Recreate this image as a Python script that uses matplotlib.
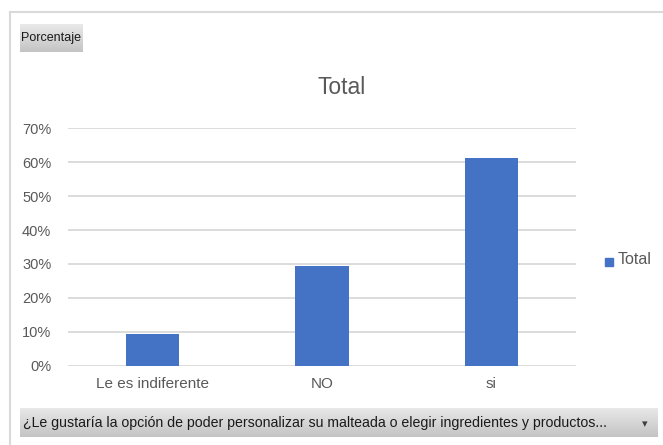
import matplotlib
matplotlib.use("Agg")
import matplotlib.pyplot as plt
from matplotlib.patches import Rectangle
import numpy as np

categories = ["Le es indiferente", "NO", "si"]
values = [0.093, 0.295, 0.612]
yticks = [0, 0.1, 0.2, 0.3, 0.4, 0.5, 0.6, 0.7]
ytick_labels = ["0%", "10%", "20%", "30%", "40%", "50%", "60%", "70%"]
series_name = "Total"
title = "Total"
field_button = "Porcentaje"
axis_field = "¿Le gustaría la opción de poder personalizar su malteada o elegir ingredientes y productos..."

FONT = ["Liberation Sans", "DejaVu Sans"]
plt.rcParams["font.family"] = FONT

W, H = 663, 445
fig = plt.figure(figsize=(W / 100, H / 100), dpi=100)
fig.patch.set_facecolor("white")

def fx(px):
    return px / W

def fy(py):
    return 1 - py / H

# chart area border
fig.add_artist(plt.Line2D([fx(10), fx(663)], [fy(12), fy(12)], color="#d9d9d9", lw=1.5))
fig.add_artist(plt.Line2D([fx(10), fx(10)], [fy(12), fy(445)], color="#d9d9d9", lw=1.5))

# plot area
ax = fig.add_axes([fx(68), fy(365.7), fx(576) - fx(68), fy(128.3) - fy(365.7)])
x = np.arange(len(categories))
ax.bar(x, values, width=0.313, color="#4472C4", zorder=3, label=series_name)
ax.set_xlim(-0.5, len(categories) - 0.5)
ax.set_ylim(0, 0.7)
ax.set_yticks(yticks)
ax.set_yticklabels(ytick_labels)
ax.set_xticks(x)
ax.set_xticklabels(categories)
ax.yaxis.grid(True, color="#d9d9d9", lw=1.3, zorder=0)
ax.tick_params(axis="y", length=0, labelsize=10.5, labelcolor="#595959", pad=12)
ax.tick_params(axis="x", length=0, labelsize=11, labelcolor="#595959", pad=8)
for s in ax.spines.values():
    s.set_visible(False)
ax.set_facecolor("white")

# title
fig.text(fx(342), fy(87), title, ha="center", va="center", fontsize=16.5, color="#595959")

# legend
fig.add_artist(Rectangle((fx(605), fy(266)), fx(8), 8 / H, color="#4472C4"))
fig.text(fx(618), fy(260), series_name, ha="left", va="center", fontsize=11.5, color="#595959")

# field buttons with gray gradient
def gradient_button(x0, y0, x1, y1):
    bax = fig.add_axes([fx(x0), fy(y1), fx(x1) - fx(x0), fy(y0) - fy(y1)])
    grad = np.linspace(0, 1, 50).reshape(-1, 1)
    cmap = matplotlib.colors.LinearSegmentedColormap.from_list("g", ["#e9e9e9", "#c4c4c4"])
    bax.imshow(grad, aspect="auto", cmap=cmap, extent=[0, 1, 0, 1], origin="upper")
    bax.set_xlim(0, 1)
    bax.set_ylim(0, 1)
    bax.axis("off")
    return bax

b1 = gradient_button(20, 24, 83, 52)
b1.text(0.5, 0.5, field_button, ha="center", va="center", fontsize=9, color="#1a1a1a")

b2 = gradient_button(20, 408, 658, 437)
b2.text(3 / (658 - 20), 0.5, axis_field, ha="left", va="center",
        fontsize=10.2, color="#1a1a1a")
b2.text((645 - 20) / (658 - 20), 0.45, "▾", ha="center", va="center", fontsize=8, color="#404040",
        family="DejaVu Sans")

fig.savefig("out.png", dpi=100)
